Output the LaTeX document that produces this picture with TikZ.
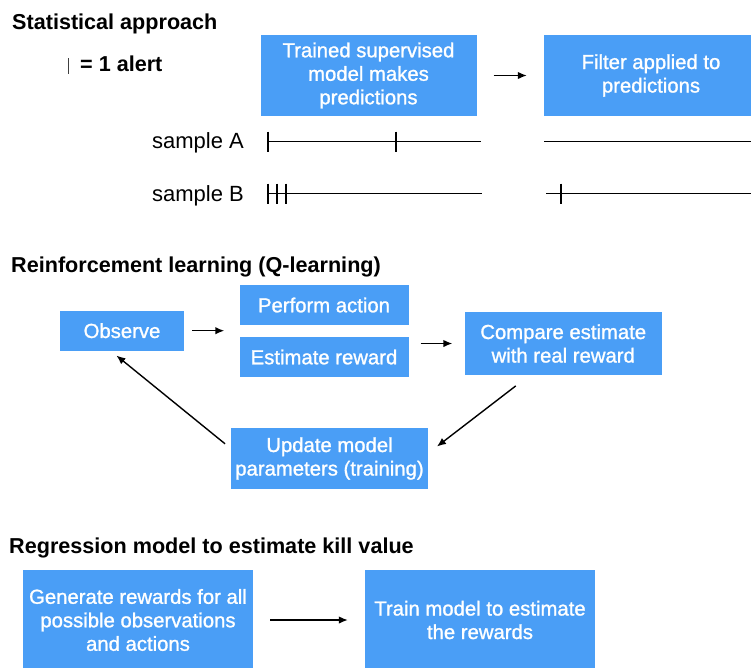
\documentclass[tikz,border=0pt]{standalone}
\usepackage{fontspec}
\setmainfont{Liberation Sans}
\newfontfamily\boxfont{Liberation Sans}[FakeBold=1.2]
\usetikzlibrary{arrows.meta,calc}
\definecolor{boxblue}{HTML}{4A9EF6}
\begin{document}
\begin{tikzpicture}[x=1pt,y=-1pt,
  bx/.style={fill=boxblue,draw=none,text=white,align=center,inner sep=0pt,
    font=\boxfont\fontsize{20.3}{23.5}\selectfont},
  ttl/.style={anchor=base west,inner sep=0pt,font=\fontsize{21.6}{25}\selectfont\bfseries},
  lbl/.style={anchor=base east,inner sep=0pt,font=\fontsize{22}{25}\selectfont},
  arr/.style={line width=1.4pt,-{Latex[length=9pt,width=7.5pt]}},
  tl/.style={line width=1.3pt}]
\clip (0,0) rectangle (751,667);
\fill[white] (0,0) rectangle (751,667);

% ---------- Statistical approach
\node[ttl] (t1) at (12,29.3) {Statistical approach};
\draw[line width=1pt,black!75] (68,58) -- (68,74);
\node[ttl] (leg) at (80,71.7) {= 1 alert};

\node[bx,minimum width=216pt,minimum height=81pt] (b1) at (368.5,75.5) {Trained supervised\\model makes\\predictions};
\node[bx,minimum width=214pt,minimum height=81pt] (b2) at (651,75.5) {Filter applied to\\predictions};
\draw[arr,shorten <=17pt,shorten >=17pt] (b1.east) -- (b2.west);

\node[lbl] (sa) at (244,148.5) {sample A};
\node[lbl] (sb) at (244,201) {sample B};
\draw[tl] (268,141.5) -- (481,141.5);
\draw[tl] (268,131.5) -- (268,151.5);
\draw[tl] (396,131.5) -- (396,151.5);
\draw[tl] (544,141.5) -- (751,141.5);
\draw[tl] (268,193.5) -- (482,193.5);
\draw[tl] (268,183.5) -- (268,203.5);
\draw[tl] (277,183.5) -- (277,203.5);
\draw[tl] (286,183.5) -- (286,203.5);
\draw[tl] (546,193.5) -- (751,193.5);
\draw[tl] (561,183.5) -- (561,203.5);

% ---------- Reinforcement learning
\node[ttl] (t2) at (11,272.7) {Reinforcement learning (Q-learning)};
\node[bx,minimum width=124pt,minimum height=40pt] (obs) at (122,330.7) {Observe};
\node[bx,minimum width=169pt,minimum height=40pt] (perf) at (324,305) {Perform action};
\node[bx,minimum width=169pt,minimum height=40pt] (est) at (324,357) {Estimate reward};
\node[bx,minimum width=197.5pt,minimum height=63pt] (cmp) at (563.25,343.5) {Compare estimate\\with real reward};
\node[bx,minimum width=196.5pt,minimum height=61pt] (upd) at (329.5,458.5) {Update model\\parameters (training)};

\draw[arr,shorten <=8pt,shorten >=15pt] (obs.east) -- (obs.east -| perf.west);
\draw[arr,shorten <=12pt,shorten >=12pt] (est.east |- cmp.west) -- (cmp.west);
\coordinate (c1s) at ($(cmp.south)+(-47.5,10.7)$);
\coordinate (c1e) at ($(upd.north east)+(9,18.7)$);
\draw[arr] (c1s) -- (c1e);
\coordinate (c2s) at ($(upd.north west)+(-6,16)$);
\coordinate (c2e) at ($(obs.south)+(-5.6,4.6)$);
\draw[arr] (c2s) -- (c2e);

% ---------- Regression model
\node[ttl] (t3) at (9,553.3) {Regression model to estimate kill value};
\node[bx,minimum width=230pt,minimum height=101pt] (gen) at (138,620) {Generate rewards for all\\possible observations\\and actions};
\node[bx,minimum width=230pt,minimum height=101pt] (trn) at (480,620) {Train model to estimate\\the rewards};
\draw[arr,shorten <=17pt,shorten >=17pt] (gen.east) -- (trn.west);
\end{tikzpicture}
\end{document}
